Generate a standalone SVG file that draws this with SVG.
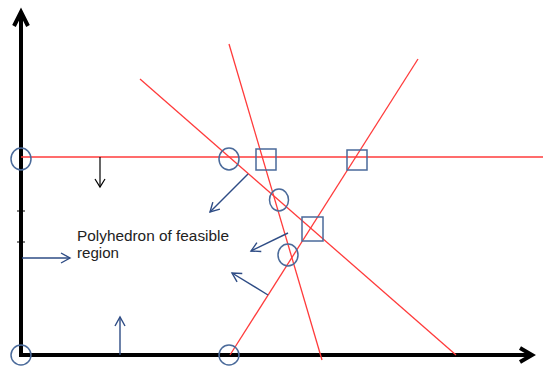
<svg xmlns="http://www.w3.org/2000/svg" width="543" height="366" viewBox="0 0 543 366">
<style>
.axis{stroke:#000;stroke-width:4;fill:none}
.red{stroke:#ff3b3b;stroke-width:1.3;fill:none}
.mark{stroke:#4a6a9a;stroke-width:1.5;fill:none}
.blue{stroke:#2e4c85;stroke-width:1.4;fill:none}
.blk{stroke:#000;stroke-width:1.2;fill:none}
.lbl{font-family:"Liberation Sans",Arial,sans-serif;font-size:14px;fill:#222}
</style>
<defs>
<marker id="ab" viewBox="-10 -6 12 12" refX="0" refY="0" markerWidth="12" markerHeight="12" markerUnits="userSpaceOnUse" orient="auto">
<path d="M-9,-5 L0,0 L-9,5" fill="none" stroke="#2e4c85" stroke-width="1.4"/>
</marker>
<marker id="ak" viewBox="-10 -6 12 12" refX="0" refY="0" markerWidth="12" markerHeight="12" markerUnits="userSpaceOnUse" orient="auto">
<path d="M-8,-5 L0,0 L-8,5" fill="none" stroke="#000" stroke-width="1.2"/>
</marker>
</defs>
<g id="axes">
<path class="axis" d="M21,357 L21,13"/>
<path class="axis" d="M14,26 L21,12 L28,26" stroke-width="3.5"/>
<path class="axis" d="M19,355 L531,355"/>
<path class="axis" d="M520,348 L532,355 L520,362" stroke-width="3.5"/>
<path d="M17,211 L25,211 M17,242 L25,242" stroke="#000" stroke-width="1"/>
</g>
<g id="constraints">
<line class="red" x1="21" y1="157" x2="543" y2="157"/>
<line class="red" x1="140" y1="79" x2="456" y2="355"/>
<line class="red" x1="229" y1="44" x2="322" y2="360"/>
<line class="red" x1="230" y1="355" x2="418" y2="59"/>
</g>
<g id="vertices">
<ellipse class="mark" cx="21" cy="159" rx="10" ry="11"/>
<ellipse class="mark" cx="229" cy="159" rx="10" ry="11"/>
<ellipse class="mark" cx="279" cy="200" rx="9.5" ry="11"/>
<ellipse class="mark" cx="288" cy="255" rx="10" ry="11"/>
<ellipse class="mark" cx="229" cy="355" rx="10" ry="10"/>
<ellipse class="mark" cx="21" cy="355" rx="10" ry="10"/>
<rect class="mark" x="256" y="149" width="20" height="21"/>
<rect class="mark" x="347" y="150" width="20" height="20"/>
<rect class="mark" x="302" y="217" width="21" height="24"/>
</g>
<g id="connectors">
<line class="blue" x1="248" y1="174" x2="210" y2="212" marker-end="url(#ab)"/>
<line class="blue" x1="288" y1="233" x2="251" y2="251" marker-end="url(#ab)"/>
<line class="blue" x1="268" y1="295" x2="232" y2="273" marker-end="url(#ab)"/>
<line class="blue" x1="120" y1="355" x2="120" y2="317" marker-end="url(#ab)"/>
<line class="blue" x1="22" y1="258" x2="70" y2="258" marker-end="url(#ab)"/>
<line class="blk" x1="100" y1="157" x2="100" y2="187" marker-end="url(#ak)"/>
</g>
<g id="label">
<text class="lbl" x="77" y="241" textLength="152" lengthAdjust="spacingAndGlyphs">Polyhedron of feasible</text>
<text class="lbl" x="77" y="258" textLength="42" lengthAdjust="spacingAndGlyphs">region</text>
</g>
</svg>
